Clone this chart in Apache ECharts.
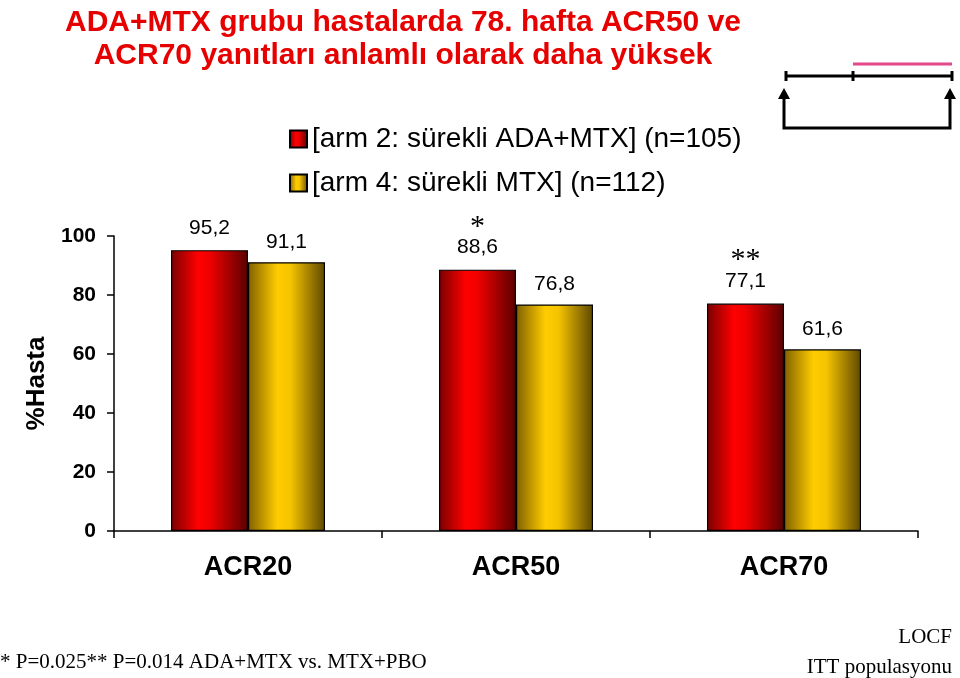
<!DOCTYPE html>
<html>
<head>
<meta charset="utf-8">
<script src="https://cdn.jsdelivr.net/npm/echarts@6/dist/echarts.min.js"></script>
<style>
html,body{margin:0;padding:0;background:#fff;}
#main{width:960px;height:678px;}
</style>
</head>
<body>
<div id="main"></div>
<script>
var categories = ['ACR20', 'ACR50', 'ACR70'];
var seriesNames = ['[arm 2: sürekli ADA+MTX] (n=105)', '[arm 4: sürekli MTX] (n=112)'];
var arm2Values = [95.2, 88.6, 77.1];
var arm4Values = [91.1, 76.8, 61.6];
var arm2Stars = ['', '*', '**'];
var yTicks = [0, 20, 40, 60, 80, 100];
var titleLines = ['ADA+MTX grubu hastalarda 78. hafta ACR50 ve', 'ACR70 yanıtları anlamlı olarak daha yüksek'];
var yAxisTitle = '%Hasta';
var footnote = '* P=0.025** P=0.014 ADA+MTX vs. MTX+PBO';
var noteLines = ['LOCF', 'ITT populasyonu'];

function fmt(v) { return String(v).replace('.', ','); }

var redGrad = new echarts.graphic.LinearGradient(0, 0, 1, 0, [
  {offset: 0, color: '#7a0000'},
  {offset: 0.35, color: '#ff0000'},
  {offset: 0.5, color: '#f00000'},
  {offset: 1, color: '#5a0000'}
]);
var yelGrad = new echarts.graphic.LinearGradient(0, 0, 1, 0, [
  {offset: 0, color: '#806000'},
  {offset: 0.38, color: '#ffcc00'},
  {offset: 0.55, color: '#f5c400'},
  {offset: 1, color: '#5e4800'}
]);

var chart = echarts.init(document.getElementById('main'), null, {renderer: 'canvas'});
var option = {
  backgroundColor: '#ffffff',
  animation: false,
  title: {
    text: titleLines.join('\n'),
    left: 398,
    textAlign: 'center',
    top: 1,
    textStyle: {
      fontFamily: 'Liberation Sans, Arial, sans-serif',
      fontWeight: 'bold',
      fontSize: 30,
      lineHeight: 33,
      color: '#e60000'
    }
  },
  legend: {
    orient: 'vertical',
    left: 289,
    top: 125,
    padding: 0,
    itemWidth: 17,
    itemHeight: 17,
    itemGap: 16,
    icon: 'rect',
    textStyle: {
      fontFamily: 'Liberation Sans, Arial, sans-serif',
      fontSize: 28,
      color: '#000'
    },
    data: seriesNames
  },
  grid: {left: 114, right: 42, top: 236, bottom: 147},
  xAxis: {
    type: 'category',
    data: categories,
    axisLine: {lineStyle: {color: '#000', width: 1.5}},
    axisTick: {show: true, length: 7, lineStyle: {color: '#000', width: 1.5}},
    axisLabel: {
      color: '#000',
      fontFamily: 'Liberation Sans, Arial, sans-serif',
      fontWeight: 'bold',
      fontSize: 27,
      margin: 23
    }
  },
  yAxis: {
    type: 'value',
    min: yTicks[0],
    max: yTicks[yTicks.length - 1],
    interval: yTicks[1] - yTicks[0],
    name: yAxisTitle,
    nameLocation: 'middle',
    nameRotate: 90,
    nameGap: 64,
    nameTextStyle: {
      fontFamily: 'Liberation Sans, Arial, sans-serif',
      fontWeight: 'bold',
      fontSize: 26,
      color: '#000'
    },
    splitLine: {show: false},
    axisLine: {show: true, lineStyle: {color: '#000', width: 1.5}},
    axisTick: {show: true, length: 7, lineStyle: {color: '#000', width: 1.5}},
    axisLabel: {
      color: '#000',
      fontFamily: 'Liberation Sans, Arial, sans-serif',
      fontWeight: 'bold',
      fontSize: 21,
      margin: 18
    }
  },
  series: [
    {
      name: seriesNames[0],
      type: 'bar',
      data: arm2Values,
      barWidth: 77,
      barGap: '0%',
      itemStyle: {color: redGrad, borderColor: '#000', borderWidth: 1.2},
      label: {
        show: true,
        position: 'top',
        distance: 10,
        formatter: function (p) {
          var s = arm2Stars[p.dataIndex];
          return (s ? '{s|' + s + '}\n' : '') + '{v|' + fmt(p.value) + '}';
        },
        rich: {
          v: {fontFamily: 'Liberation Sans, Arial, sans-serif', fontSize: 21, color: '#000', lineHeight: 24},
          s: {fontFamily: 'Liberation Serif, Times New Roman, serif', fontSize: 30, color: '#000', lineHeight: 26, padding: [0, 0, -8, 0]}
        }
      }
    },
    {
      name: seriesNames[1],
      type: 'bar',
      data: arm4Values,
      barWidth: 77,
      barGap: '0%',
      itemStyle: {color: yelGrad, borderColor: '#000', borderWidth: 1.2},
      label: {
        show: true,
        position: 'top',
        distance: 10,
        formatter: function (p) { return fmt(p.value); },
        fontFamily: 'Liberation Sans, Arial, sans-serif',
        fontSize: 21,
        color: '#000'
      }
    }
  ],
  graphic: [
    {type: 'text', left: 0, top: 652, style: {text: footnote, font: '21px "Liberation Serif", "Times New Roman", serif', fill: '#000'}},
    {type: 'text', right: 8, top: 627, style: {text: noteLines[0], font: '21px "Liberation Serif", "Times New Roman", serif', fill: '#000'}},
    {type: 'text', right: 8, top: 657, style: {text: noteLines[1], font: '21px "Liberation Serif", "Times New Roman", serif', fill: '#000'}},
    {type: 'line', shape: {x1: 853, y1: 64, x2: 952, y2: 64}, style: {stroke: '#e6498a', lineWidth: 3}},
    {type: 'line', shape: {x1: 786, y1: 76, x2: 952, y2: 76}, style: {stroke: '#000', lineWidth: 3}},
    {type: 'line', shape: {x1: 786, y1: 71, x2: 786, y2: 81}, style: {stroke: '#000', lineWidth: 3}},
    {type: 'line', shape: {x1: 853, y1: 71, x2: 853, y2: 81}, style: {stroke: '#000', lineWidth: 3}},
    {type: 'line', shape: {x1: 952, y1: 71, x2: 952, y2: 81}, style: {stroke: '#000', lineWidth: 3}},
    {type: 'polyline', shape: {points: [[784, 96], [784, 128], [950, 128], [950, 96]]}, style: {stroke: '#000', lineWidth: 3, fill: null}},
    {type: 'polygon', shape: {points: [[778, 99], [790, 99], [784, 88]]}, style: {fill: '#000'}},
    {type: 'polygon', shape: {points: [[944, 99], [956, 99], [950, 88]]}, style: {fill: '#000'}}
  ]
};
chart.setOption(option);
</script>
</body>
</html>
